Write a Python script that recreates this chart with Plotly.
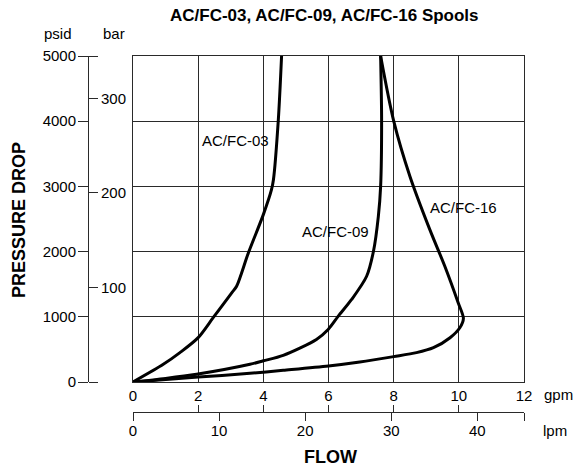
import plotly.graph_objects as go

W, H = 574, 469
FONT = "Liberation Sans, Arial, sans-serif"

# ---- data (gpm, psid) ----
fc03_gpm = [0, 0.93, 1.44, 2.0, 2.46, 3.03, 3.18, 3.54, 4.0, 4.25, 4.31, 4.46, 4.56]
fc03_psi = [0, 271, 450, 680, 986, 1368, 1469, 1980, 2567, 2949, 3102, 4020, 5000]

fc09_gpm = [0, 1.0, 1.95, 3.59, 4.0, 4.61, 5.63, 5.99, 6.3, 6.71, 7.17, 7.38, 7.53, 7.6, 7.63, 7.6]
fc09_psi = [0, 55, 118, 271, 325, 409, 653, 806, 1010, 1266, 1622, 2005, 2541, 3000, 4005, 5000]

fc16_gpm = [0, 2.0, 3.59, 4.61, 6.0, 6.96, 8.0, 8.7, 9.22, 9.73, 10.03, 10.14, 9.98, 9.57, 9.11, 8.5, 8.0, 7.6]
fc16_psi = [0, 75, 133, 179, 245, 306, 389, 450, 526, 679, 832, 975, 1215, 1775, 2337, 3153, 4005, 5000]

series_names = ["AC/FC-03", "AC/FC-09", "AC/FC-16"]
label_pos_gpm = [3.16, 6.2, 10.15]
label_pos_psi = [3699, 2311, 2678]

gpm_ticks = [0, 2, 4, 6, 8, 10, 12]
psi_ticks = [0, 1000, 2000, 3000, 4000, 5000]
bar_ticks = [100, 200, 300]
lpm_ticks = [0, 10, 20, 30, 40]

GPM_MAX = 12
PSI_MAX = 5000
LPM_PER_GPM = 3.78541
PSI_PER_BAR = 14.5038

# ---- layout geometry (pixels) ----
PL, PR, PT, PB = 133, 524, 56, 382
YAX_X = 88
LPM_Y = 412

def px(x):
    return x / W

def py(y):
    return 1 - y / H

fig = go.Figure()
for xs, ys in [(fc03_gpm, fc03_psi), (fc09_gpm, fc09_psi), (fc16_gpm, fc16_psi)]:
    fig.add_trace(go.Scatter(x=xs, y=ys, mode="lines",
                             line=dict(color="black", width=3, shape="spline", smoothing=0.8),
                             xaxis="x", yaxis="y", showlegend=False, hoverinfo="skip"))

# dummy traces to make the extra axes exist
for xa, ya in [("x2", "y"), ("x3", "y"), ("x", "y2"), ("x", "y3")]:
    fig.add_trace(go.Scatter(x=[None], y=[None], xaxis=xa, yaxis=ya,
                             showlegend=False, hoverinfo="skip"))

AX = "#2a2a2a"
xdom = [px(PL), px(PR)]
ydom = [py(PB), py(PT)]

fig.update_layout(
    template="none",
    width=W, height=H, autosize=False,
    margin=dict(l=0, r=0, t=0, b=0, pad=0),
    paper_bgcolor="white", plot_bgcolor="white",
    font=dict(family=FONT, size=15, color="black"),
    xaxis=dict(domain=xdom, range=[0, GPM_MAX], tickvals=gpm_ticks,
               ticks="", showgrid=True, gridcolor=AX, gridwidth=1,
               showline=True, linecolor=AX, linewidth=1, mirror=True,
               zeroline=False, anchor="y3", tickfont=dict(size=15),
               automargin=False, fixedrange=True),
    yaxis=dict(domain=ydom, range=[0, PSI_MAX], tickvals=psi_ticks,
               anchor="free", position=px(YAX_X), side="left",
               ticks="outside", ticklen=10, tickcolor=AX, tickwidth=1,
               showline=True, linecolor=AX, linewidth=1,
               showgrid=True, gridcolor=AX, gridwidth=1, zeroline=False,
               tickfont=dict(size=15), ticklabelstandoff=-1,
               automargin=False, fixedrange=True),
    yaxis2=dict(overlaying="y", range=[0, PSI_MAX / PSI_PER_BAR],
                tickvals=[0] + bar_ticks + [PSI_MAX / PSI_PER_BAR],
                ticktext=[""] + [str(v) for v in bar_ticks] + [""],
                anchor="free", position=px(YAX_X), side="right",
                ticks="outside", ticklen=9, tickcolor=AX, tickwidth=1,
                showline=False, showgrid=False, zeroline=False,
                tickfont=dict(size=15), automargin=False, fixedrange=True),
    yaxis3=dict(overlaying="y", range=[0, PSI_MAX], anchor="x",
                showline=True, linecolor=AX, linewidth=1, mirror=True,
                showticklabels=False, ticks="", showgrid=False, zeroline=False,
                automargin=False, fixedrange=True),
    xaxis2=dict(overlaying="x", range=[0, GPM_MAX * LPM_PER_GPM],
                tickvals=lpm_ticks + [GPM_MAX * LPM_PER_GPM],
                ticktext=[str(v) for v in lpm_ticks] + [""],
                anchor="free", position=py(LPM_Y), side="bottom",
                ticks="outside", ticklen=8, tickcolor=AX, tickwidth=1,
                showline=True, linecolor=AX, linewidth=1,
                showgrid=False, zeroline=False, tickfont=dict(size=15),
                ticklabelstandoff=-3, automargin=False, fixedrange=True),
    xaxis3=dict(overlaying="x", range=[0, GPM_MAX], tickvals=gpm_ticks,
                anchor="free", position=py(LPM_Y), side="bottom",
                ticks="inside", ticklen=7, tickcolor=AX, tickwidth=1,
                showticklabels=False, showline=False, showgrid=False,
                zeroline=False, automargin=False, fixedrange=True),
)

ann = []
for name, gx, gy in zip(series_names, label_pos_gpm, label_pos_psi):
    ann.append(dict(x=gx, y=gy, xref="x", yref="y", text=name, showarrow=False,
                    font=dict(size=15, family=FONT, color="black")))

def pa(text, x, y, size=15, bold=False, angle=0):
    t = f"<b>{text}</b>" if bold else text
    return dict(x=px(x), y=py(y), xref="paper", yref="paper", text=t,
                showarrow=False, textangle=angle, xanchor="center", yanchor="middle",
                font=dict(size=size, family=FONT, color="black"))

ann += [
    pa("AC/FC-03, AC/FC-09, AC/FC-16 Spools", 324.5, 15, size=17, bold=True),
    pa("psid", 58, 33),
    pa("bar", 114, 33),
    pa("gpm", 558, 394),
    pa("lpm", 555, 430),
    pa("FLOW", 330, 457, size=18, bold=True),
    pa("PRESSURE DROP", 19, 220, size=18, bold=True, angle=-90),
]
fig.update_layout(annotations=ann)

fig.write_html("out.html", config={"displayModeBar": False},
               post_script="document.body.style.margin='0';document.body.style.overflow='hidden';")
